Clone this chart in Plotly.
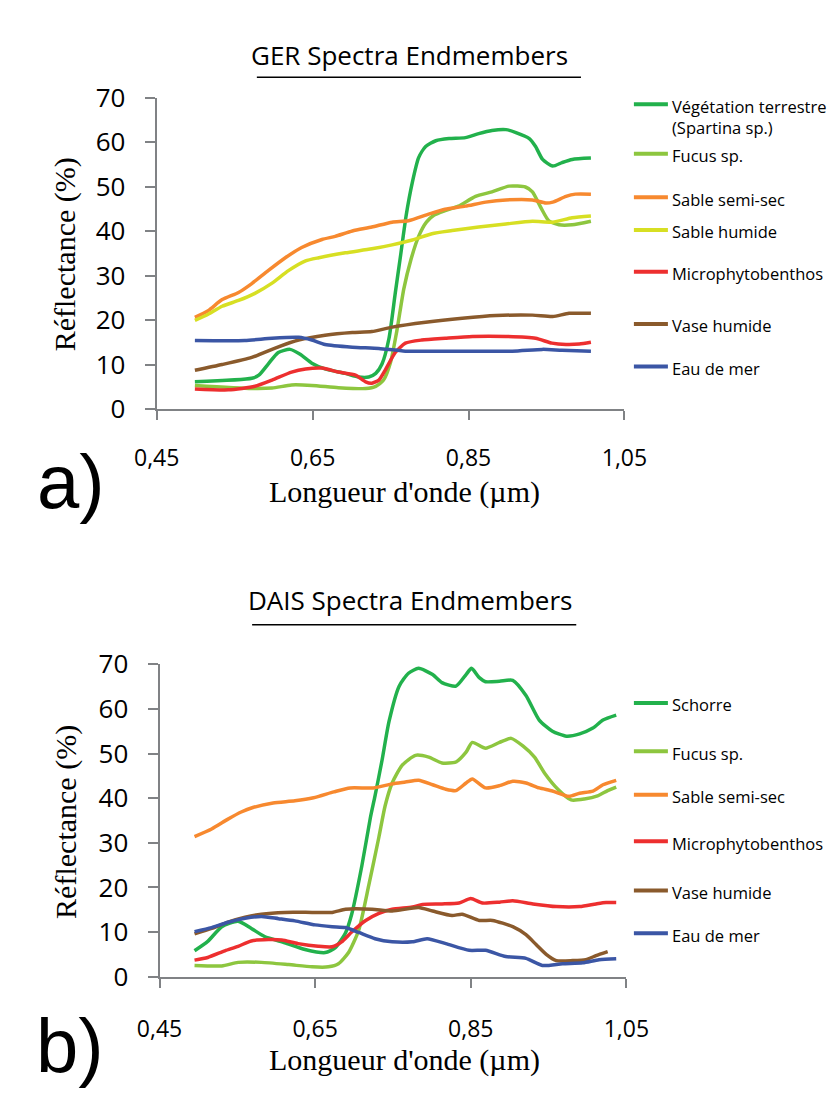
import plotly.graph_objects as go

W, H = 836, 1093

# ---- a) GER spectra ----
ger_names = ["Végétation terrestre<br>(Spartina sp.)", "Fucus sp.", "Sable semi-sec",
             "Sable humide", "Microphytobenthos", "Vase humide", "Eau de mer"]

ger_spartina_x = [0.499, 0.572, 0.581, 0.593, 0.606, 0.621, 0.634, 0.649, 0.666, 0.692, 0.709, 0.722,
                  0.731, 0.739, 0.748, 0.756, 0.763, 0.770, 0.778, 0.786, 0.795, 0.808, 0.825, 0.846,
                  0.863, 0.880, 0.898, 0.910, 0.928, 0.936, 0.945, 0.958, 0.970, 0.983, 1.007]
ger_spartina_y = [6.1, 6.9, 7.6, 10.1, 12.7, 13.4, 12.3, 10.3, 9.0, 8.0, 7.2, 7.2,
                  8.0, 10.1, 15.9, 26.0, 34.7, 43.5, 51.0, 56.5, 59.0, 60.3, 60.8, 61.0,
                  61.9, 62.6, 62.8, 62.2, 60.8, 59.0, 56.1, 54.6, 55.4, 56.1, 56.4]

ger_fucus_x = [0.499, 0.572, 0.598, 0.623, 0.649, 0.683, 0.718, 0.731, 0.741, 0.750, 0.758, 0.767,
               0.776, 0.786, 0.796, 0.806, 0.820, 0.837, 0.859, 0.880, 0.902, 0.923, 0.932, 0.943,
               0.953, 0.966, 0.983, 1.007]
ger_fucus_y = [5.3, 4.6, 4.7, 5.4, 5.3, 4.8, 4.6, 5.1, 6.5, 10.5, 17.5, 27.0,
               33.5, 38.8, 42.0, 43.6, 44.6, 45.6, 47.8, 48.8, 50.1, 49.9, 48.8, 45.2,
               42.3, 41.4, 41.4, 42.2]

ger_sable_sec_x = [0.499, 0.516, 0.534, 0.555, 0.572, 0.593, 0.615, 0.636, 0.662, 0.679, 0.701, 0.726,
                   0.752, 0.773, 0.799, 0.820, 0.846, 0.872, 0.898, 0.932, 0.949, 0.958, 0.975, 0.987,
                   1.007]
ger_sable_sec_y = [20.6, 22.1, 24.6, 26.2, 28.2, 31.1, 34.0, 36.3, 38.1, 38.8, 40.0, 40.9,
                   42.0, 42.3, 43.8, 44.9, 45.6, 46.5, 47.0, 47.0, 46.3, 46.5, 47.8, 48.3,
                   48.3]

ger_sable_hum_x = [0.499, 0.516, 0.534, 0.555, 0.576, 0.598, 0.619, 0.641, 0.658, 0.692, 0.726, 0.752,
                   0.778, 0.803, 0.829, 0.863, 0.898, 0.932, 0.958, 0.983, 1.007]
ger_sable_hum_y = [19.9, 21.3, 23.1, 24.4, 26.0, 28.3, 31.1, 33.3, 34.0, 35.1, 36.0, 36.9,
                   38.0, 39.4, 40.1, 40.9, 41.6, 42.2, 42.0, 43.0, 43.4]

ger_micro_x = [0.499, 0.542, 0.576, 0.598, 0.623, 0.641, 0.662, 0.683, 0.705, 0.718, 0.726, 0.735,
               0.743, 0.756, 0.769, 0.790, 0.820, 0.855, 0.898, 0.936, 0.957, 0.975, 0.992, 1.007]
ger_micro_y = [4.5, 4.3, 5.1, 6.5, 8.3, 9.0, 9.2, 8.3, 7.6, 6.1, 5.8, 6.5,
               8.7, 12.7, 14.8, 15.5, 15.9, 16.3, 16.3, 15.9, 14.8, 14.5, 14.6, 15.0]

ger_vase_x = [0.499, 0.534, 0.572, 0.602, 0.632, 0.666, 0.701, 0.726, 0.752, 0.795, 0.842, 0.885,
              0.932, 0.958, 0.979, 1.007]
ger_vase_y = [8.7, 10.0, 11.6, 13.7, 15.5, 16.6, 17.2, 17.4, 18.4, 19.5, 20.4, 21.0,
              21.1, 20.8, 21.5, 21.5]

ger_eau_x = [0.499, 0.563, 0.598, 0.632, 0.649, 0.666, 0.701, 0.735, 0.769, 0.820, 0.906, 0.945,
             0.970, 1.007]
ger_eau_y = [15.4, 15.4, 15.9, 16.1, 15.5, 14.5, 13.9, 13.6, 13.0, 13.0, 13.0, 13.4,
             13.2, 13.0]

# ---- b) DAIS spectra ----
dais_names = ["Schorre", "Fucus sp.", "Sable semi-sec", "Microphytobenthos", "Vase humide", "Eau de mer"]

dais_schorre_x = [0.495, 0.512, 0.530, 0.551, 0.568, 0.585, 0.611, 0.637, 0.663, 0.676, 0.689, 0.697,
                  0.710, 0.721, 0.727, 0.736, 0.745, 0.758, 0.770, 0.783, 0.801, 0.813, 0.831, 0.844,
                  0.851, 0.861, 0.869, 0.887, 0.904, 0.921, 0.938, 0.955, 0.973, 0.990, 1.007, 1.020,
                  1.037]
dais_schorre_y = [5.8, 7.9, 11.2, 12.4, 10.8, 9.0, 7.6, 6.1, 5.4, 6.5, 9.8, 14.0,
                  24.8, 35.6, 40.5, 48.5, 57.2, 65.1, 68.0, 69.1, 67.7, 65.9, 65.1, 67.7,
                  69.1, 67.0, 66.1, 66.2, 66.4, 63.0, 57.5, 55.0, 53.9, 54.4, 55.7, 57.5,
                  58.6]

dais_fucus_x = [0.495, 0.530, 0.551, 0.581, 0.616, 0.646, 0.667, 0.680, 0.693, 0.706, 0.719, 0.732,
                0.740, 0.749, 0.762, 0.779, 0.796, 0.813, 0.831, 0.844, 0.852, 0.869, 0.887, 0.902,
                0.917, 0.932, 0.945, 0.962, 0.979, 0.996, 1.013, 1.026, 1.037]
dais_fucus_y = [2.5, 2.4, 3.2, 3.2, 2.7, 2.2, 2.2, 2.9, 5.4, 10.4, 20.5, 31.3,
                38.3, 43.4, 47.4, 49.6, 49.2, 47.9, 48.1, 50.3, 52.5, 51.2, 52.5, 53.4,
                51.7, 49.2, 45.6, 42.0, 39.6, 39.8, 40.5, 41.7, 42.5]

dais_sable_x = [0.495, 0.517, 0.538, 0.555, 0.570, 0.596, 0.624, 0.648, 0.674, 0.695, 0.725, 0.749,
                0.766, 0.783, 0.801, 0.818, 0.831, 0.844, 0.852, 0.869, 0.887, 0.904, 0.921, 0.938,
                0.955, 0.976, 0.990, 1.007, 1.020, 1.037]
dais_sable_y = [31.4, 33.1, 35.3, 36.9, 37.9, 38.9, 39.4, 40.1, 41.4, 42.3, 42.3, 43.2,
                43.6, 44.0, 43.0, 42.0, 41.7, 43.4, 44.3, 42.3, 42.8, 43.8, 43.4, 42.3,
                41.6, 40.4, 41.1, 41.6, 43.0, 44.0]

dais_micro_x = [0.495, 0.512, 0.534, 0.551, 0.568, 0.590, 0.607, 0.628, 0.654, 0.672, 0.684, 0.697,
                0.715, 0.732, 0.749, 0.775, 0.788, 0.813, 0.835, 0.850, 0.865, 0.887, 0.904, 0.930,
                0.960, 0.990, 1.011, 1.024, 1.037]
dais_micro_y = [3.7, 4.3, 5.8, 6.8, 8.0, 8.3, 8.2, 7.4, 6.8, 6.7, 7.8, 10.0,
                12.6, 14.2, 15.1, 15.6, 16.2, 16.3, 16.5, 17.5, 16.5, 16.7, 17.0, 16.3,
                15.7, 15.7, 16.3, 16.6, 16.6]

dais_vase_x = [0.495, 0.517, 0.538, 0.560, 0.581, 0.611, 0.646, 0.672, 0.689, 0.723, 0.749, 0.783,
               0.801, 0.826, 0.839, 0.861, 0.878, 0.904, 0.921, 0.934, 0.947, 0.960, 0.981, 0.998,
               1.011, 1.026]
dais_vase_y = [9.6, 10.8, 12.2, 13.3, 14.0, 14.4, 14.4, 14.4, 15.1, 15.1, 14.7, 15.5,
               14.7, 13.7, 14.0, 12.6, 12.6, 11.2, 9.4, 7.2, 5.0, 3.6, 3.6, 3.8,
               4.7, 5.6]

dais_eau_x = [0.495, 0.517, 0.538, 0.560, 0.581, 0.603, 0.624, 0.650, 0.672, 0.689, 0.706, 0.727,
              0.749, 0.775, 0.794, 0.818, 0.848, 0.869, 0.895, 0.921, 0.942, 0.968, 0.994, 1.015,
              1.037]
dais_eau_y = [10.1, 11.0, 12.2, 13.1, 13.5, 13.0, 12.5, 11.6, 11.2, 11.0, 9.9, 8.5,
              7.8, 7.8, 8.5, 7.4, 5.9, 5.9, 4.5, 4.1, 2.5, 2.9, 3.1, 3.8,
              4.0]

xtick_vals = [0.45, 0.65, 0.85, 1.05]
xtick_text = ["0,45", "0,65", "0,85", "1,05"]
ytick_vals = [0, 10, 20, 30, 40, 50, 60, 70]

DKGREEN, LTGREEN, ORANGE, YELLOW = "#22b14c", "#8dc63f", "#f7892f", "#d7df23"
RED, BROWN, BLUE = "#ed2f2f", "#8a5a2c", "#3b56a5"

ger_series = [
    (ger_spartina_x, ger_spartina_y, DKGREEN),
    (ger_fucus_x, ger_fucus_y, LTGREEN),
    (ger_sable_sec_x, ger_sable_sec_y, ORANGE),
    (ger_sable_hum_x, ger_sable_hum_y, YELLOW),
    (ger_micro_x, ger_micro_y, RED),
    (ger_vase_x, ger_vase_y, BROWN),
    (ger_eau_x, ger_eau_y, BLUE),
]
dais_series = [
    (dais_schorre_x, dais_schorre_y, DKGREEN),
    (dais_fucus_x, dais_fucus_y, LTGREEN),
    (dais_sable_x, dais_sable_y, ORANGE),
    (dais_micro_x, dais_micro_y, RED),
    (dais_vase_x, dais_vase_y, BROWN),
    (dais_eau_x, dais_eau_y, BLUE),
]

# legend rows (pixel y of each swatch), panel a then panel b
legend_a_rows = [80, 131, 176, 210, 253, 307, 351]
legend_b_rows = [699, 749, 794, 842, 893, 937]

fig = go.Figure()

for (xs, ys, col), name in zip(ger_series, ger_names):
    fig.add_trace(go.Scatter(x=xs, y=ys, name=name, mode="lines", showlegend=False,
                             line=dict(color=col, width=3.5, shape="spline", smoothing=0.6),
                             xaxis="x", yaxis="y"))
for (xs, ys, col), name in zip(dais_series, dais_names):
    fig.add_trace(go.Scatter(x=xs, y=ys, name=name, mode="lines", showlegend=False,
                             line=dict(color=col, width=3.5, shape="spline", smoothing=0.6),
                             xaxis="x2", yaxis="y2"))


def px_x(p):
    return p / W


def px_y(p):
    return 1 - p / H


GRAY = "#808285"
SANS = "Open Sans, Noto Sans, sans-serif"
SERIF = "Liberation Serif, Times New Roman, serif"
HELV = "Liberation Sans, Arial, sans-serif"

xax = dict(range=[0.45, 1.05], tickvals=xtick_vals, ticktext=xtick_text, showline=True,
           linecolor=GRAY, linewidth=2, ticks="outside", ticklen=9, tickwidth=2, tickcolor=GRAY,
           showgrid=False, zeroline=False, tickfont=dict(family=SANS, size=23, color="black"),
           fixedrange=True)
yax = dict(range=[0, 70], tickvals=ytick_vals, showline=True, linecolor=GRAY, linewidth=2,
           ticks="outside", ticklen=10, tickwidth=2, tickcolor=GRAY, showgrid=False, zeroline=False,
           tickfont=dict(family=SANS, size=26, color="black"), ticklabelstandoff=14, fixedrange=True)

fig.update_layout(
    width=W, height=H, margin=dict(l=0, r=0, t=0, b=0),
    paper_bgcolor="white", plot_bgcolor="white", showlegend=False,
    xaxis=dict(xax, domain=[px_x(133), px_x(628)], anchor="y", ticklabelstandoff=18),
    yaxis=dict(yax, domain=[px_y(395), px_y(73)], anchor="x"),
    xaxis2=dict(xax, domain=[px_x(136), px_x(630)], anchor="y2", ticklabelstandoff=22),
    yaxis2=dict(yax, domain=[px_y(982), px_y(659)], anchor="x2"),
)

ann = [
    ("GER Spectra Endmembers", 401, 29, SANS, 26, 0),
    ("DAIS Spectra Endmembers", 401, 593, SANS, 26, 0),
    ("Longueur d'onde (µm)", 395, 481, SERIF, 30, 0),
    ("Longueur d'onde (µm)", 395, 1068, SERIF, 30, 0),
    ("Réflectance (%)", 36, 235, SERIF, 30, -90),
    ("Réflectance (%)", 37, 822, SERIF, 30, -90),
    ("a)", 42, 470, HELV, 76, 0),
    ("b)", 41, 1053, HELV, 76, 0),
]
for text, x, y, fam, size, ang in ann:
    fig.add_annotation(text=text, x=px_x(x), y=px_y(y), xref="paper", yref="paper",
                       showarrow=False, xanchor="center", yanchor="middle", textangle=ang,
                       font=dict(family=fam, size=size, color="black"))

# title underlines
for y, x0, x1 in [(52, 239, 582), (618, 234, 577)]:
    fig.add_shape(type="line", xref="paper", yref="paper", x0=px_x(x0), x1=px_x(x1),
                  y0=px_y(y), y1=px_y(y), line=dict(color="black", width=1.5))

# hand-placed legends (spacing in the original is irregular)
for rows, series, names in [(legend_a_rows, ger_series, ger_names),
                            (legend_b_rows, dais_series, dais_names)]:
    for row, (_, _, col), name in zip(rows, series, names):
        fig.add_shape(type="line", xref="paper", yref="paper", x0=px_x(638), x1=px_x(674),
                      y0=px_y(row), y1=px_y(row), line=dict(color=col, width=4))
        fig.add_annotation(text=name, x=px_x(676), y=px_y(row - 12), xref="paper", yref="paper",
                           showarrow=False, xanchor="left", yanchor="top", align="left",
                           font=dict(family=SANS, size=16.5, color="black"))

fig.write_html("out.html")
